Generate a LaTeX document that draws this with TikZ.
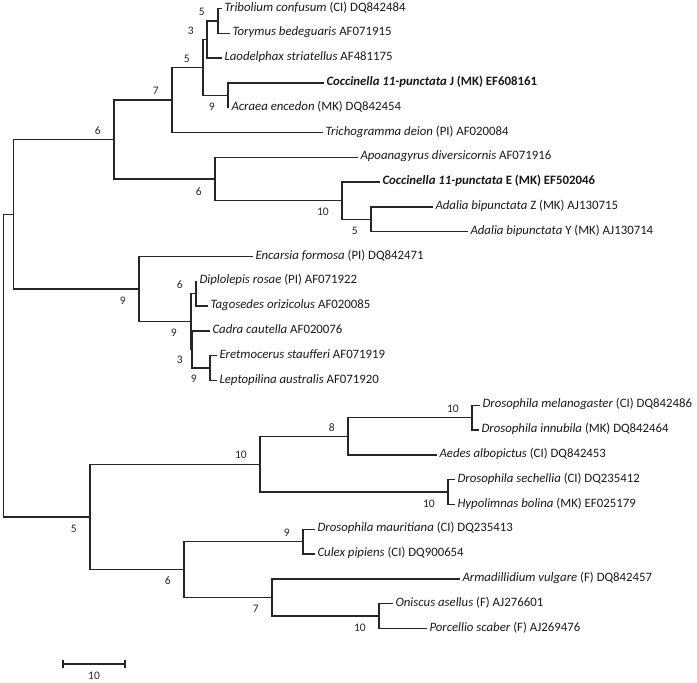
\documentclass[tikz,border=0pt]{standalone}
\usepackage{fontspec}
\setmainfont{Carlito}
\begin{document}
\begin{tikzpicture}[x=1pt,y=-1pt,
  br/.style={draw=black!85, line width=1.3pt},
  leaf/.style={anchor=west, inner xsep=2.5pt, inner ysep=0pt, outer sep=0pt, text height=0.72em, text depth=0.2em, font=\fontsize{12.8}{15}\selectfont, text=black!90},
  bs/.style={anchor=east, inner sep=0pt, font=\fontsize{11.5}{13.5}\selectfont, text=black!85}]
\useasboundingbox (0,0) rectangle (697,683);
% internal nodes
\coordinate (n5b) at (218,20.9);
\coordinate (n3) at (207,39.5);
\coordinate (n9a) at (228,95.3);
\coordinate (n5a) at (203,67.4);
\coordinate (n7) at (172,100);
\coordinate (n5c) at (371,219.3);
\coordinate (n10a) at (342,200.7);
\coordinate (n6b) at (215,179);
\coordinate (n6a) at (114,139.5);
\coordinate (n6c) at (196,293.7);
\coordinate (n9c) at (210,368.1);
\coordinate (n3b) at (192,349.5);
\coordinate (n9b) at (191,321.6);
\coordinate (n9) at (139,289);
\coordinate (nU) at (13.5,214.3);
\coordinate (n10c) at (472,417.7);
\coordinate (n8) at (348,436.3);
\coordinate (n10d) at (448,492.1);
\coordinate (n10b) at (260,464.2);
\coordinate (n9d) at (303,541.7);
\coordinate (n10e) at (379,616.1);
\coordinate (n7b) at (272,597.5);
\coordinate (n6d) at (184,569.6);
\coordinate (n5d) at (90,516.9);
\coordinate (root) at (3.5,365.6);
% leaves
\node[leaf] (l1) at (222,8.5) {\textit{Tribolium confusum} (CI) DQ842484};
\node[leaf] (l2) at (230,33.3) {\textit{Torymus bedeguaris} AF071915};
\node[leaf] (l3) at (222,58.1) {\textit{Laodelphax striatellus} AF481175};
\node[leaf] (l4) at (324,82.9) {\textbf{\textit{Coccinella 11-punctata} J (MK) EF608161}};
\node[leaf] (l5) at (229,107.7) {\textit{Acraea encedon} (MK) DQ842454};
\node[leaf] (l6) at (323,132.5) {\textit{Trichogramma deion} (PI) AF020084};
\node[leaf] (l7) at (358,157.3) {\textit{Apoanagyrus diversicornis} AF071916};
\node[leaf] (l8) at (380,182.1) {\textbf{\textit{Coccinella 11-punctata} E (MK) EF502046}};
\node[leaf] (l9) at (433,206.9) {\textit{Adalia bipunctata} Z (MK) AJ130715};
\node[leaf] (l10) at (468,231.7) {\textit{Adalia bipunctata} Y (MK) AJ130714};
\node[leaf] (l11) at (253,256.5) {\textit{Encarsia formosa} (PI) DQ842471};
\node[leaf] (l12) at (197,281.3) {\textit{Diplolepis rosae} (PI) AF071922};
\node[leaf] (l13) at (208,306.1) {\textit{Tagosedes orizicolus} AF020085};
\node[leaf] (l14) at (210,330.9) {\textit{Cadra cautella} AF020076};
\node[leaf] (l15) at (217,355.7) {\textit{Eretmocerus staufferi} AF071919};
\node[leaf] (l16) at (217,380.5) {\textit{Leptopilina australis} AF071920};
\node[leaf] (l17) at (480,405.3) {\textit{Drosophila melanogaster} (CI) DQ842486};
\node[leaf] (l18) at (479,430.1) {\textit{Drosophila innubila} (MK) DQ842464};
\node[leaf] (l19) at (437,454.9) {\textit{Aedes albopictus} (CI) DQ842453};
\node[leaf] (l20) at (455,479.7) {\textit{Drosophila sechellia} (CI) DQ235412};
\node[leaf] (l21) at (455,504.5) {\textit{Hypolimnas bolina} (MK) EF025179};
\node[leaf] (l22) at (315,529.3) {\textit{Drosophila mauritiana} (CI) DQ235413};
\node[leaf] (l23) at (315,554.1) {\textit{Culex pipiens} (CI) DQ900654};
\node[leaf] (l24) at (460,578.9) {\textit{Armadillidium vulgare} (F) DQ842457};
\node[leaf] (l25) at (393,603.7) {\textit{Oniscus asellus} (F) AJ276601};
\node[leaf] (l26) at (427,628.5) {\textit{Porcellio scaber} (F) AJ269476};
% branches
\draw[br] (root) |- (nU);
\draw[br] (root) |- (n5d);
\draw[br] (nU) |- (n6a);
\draw[br] (nU) |- (n9);
\draw[br] (n6a) |- (n7);
\draw[br] (n6a) |- (n6b);
\draw[br] (n7) |- (n5a);
\draw[br] (n7) |- (l6.west);
\draw[br] (n5a) |- (n3);
\draw[br] (n5a) |- (n9a);
\draw[br] (n3) |- (n5b);
\draw[br] (n3) |- (l3.west);
\draw[br] (n5b) |- (l1.west);
\draw[br] (n5b) |- (l2.west);
\draw[br] (n9a) |- (l4.west);
\draw[br] (n9a) |- (l5.west);
\draw[br] (n6b) |- (l7.west);
\draw[br] (n6b) |- (n10a);
\draw[br] (n10a) |- (l8.west);
\draw[br] (n10a) |- (n5c);
\draw[br] (n5c) |- (l9.west);
\draw[br] (n5c) |- (l10.west);
\draw[br] (n9) |- (l11.west);
\draw[br] (n9) |- (n9b);
\draw[br] (n9b) |- (n6c);
\draw[br] (n9b) |- (n3b);
\draw[br] (n6c) |- (l12.west);
\draw[br] (n6c) |- (l13.west);
\draw[br] (n3b) |- (l14.west);
\draw[br] (n3b) |- (n9c);
\draw[br] (n9c) |- (l15.west);
\draw[br] (n9c) |- (l16.west);
\draw[br] (n5d) |- (n10b);
\draw[br] (n5d) |- (n6d);
\draw[br] (n10b) |- (n8);
\draw[br] (n10b) |- (n10d);
\draw[br] (n8) |- (n10c);
\draw[br] (n8) |- (l19.west);
\draw[br] (n10c) |- (l17.west);
\draw[br] (n10c) |- (l18.west);
\draw[br] (n10d) |- (l20.west);
\draw[br] (n10d) |- (l21.west);
\draw[br] (n6d) |- (n9d);
\draw[br] (n6d) |- (n7b);
\draw[br] (n9d) |- (l22.west);
\draw[br] (n9d) |- (l23.west);
\draw[br] (n7b) |- (l24.west);
\draw[br] (n7b) |- (n10e);
\draw[br] (n10e) |- (l25.west);
\draw[br] (n10e) |- (l26.west);
% bootstrap labels
\node[bs] (b5b) at (205,11.9) {5};
\node[bs] (b3) at (194,30.5) {3};
\node[bs] (b5a) at (190,58.4) {5};
\node[bs] (b7) at (159,91) {7};
\node[bs] (b6a) at (101,130.5) {6};
\node[bs] (b9a) at (215,106.8) {9};
\node[bs] (b6b) at (202,192) {6};
\node[bs] (b10a) at (329,212.2) {10};
\node[bs] (b5c) at (358,230.8) {5};
\node[bs] (b9) at (126,300.5) {9};
\node[bs] (b6c) at (183,284.7) {6};
\node[bs] (b9b) at (177,333.1) {9};
\node[bs] (b3b) at (183,360) {3};
\node[bs] (b9c) at (197,378.6) {9};
\node[bs] (b10b) at (247,455.2) {10};
\node[bs] (b8) at (335,427.3) {8};
\node[bs] (b10c) at (459,408.7) {10};
\node[bs] (b10d) at (435,503.6) {10};
\node[bs] (b5d) at (77,528.4) {5};
\node[bs] (b9d) at (290,532.7) {9};
\node[bs] (b6d) at (171,581.1) {6};
\node[bs] (b7b) at (259,608.5) {7};
\node[bs] (b10e) at (366,627.6) {10};
% scale bar
\coordinate (sbL) at (63,664);
\coordinate (sbR) at (125,664);
\draw[br] (sbL) -- (sbR);
\draw[br] ([yshift=4pt]sbL) -- ([yshift=-4pt]sbL);
\draw[br] ([yshift=4pt]sbR) -- ([yshift=-4pt]sbR);
\node[bs, anchor=center] (sbt) at (94,676) {10};
\end{tikzpicture}
\end{document}
